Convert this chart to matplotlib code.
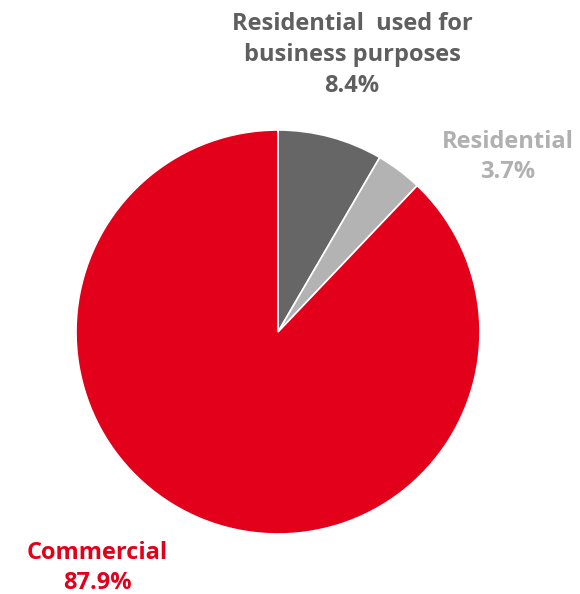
import matplotlib.pyplot as plt

# ---------- Data ----------
labels = ["Residential  used for\nbusiness purposes", "Residential", "Commercial"]
shares = [8.4, 3.7, 87.9]
colors = ["#666666", "#b3b3b3", "#e2001a"]
text_colors = ["#5f5f5f", "#b0b0b0", "#e2001a"]

plt.rcParams['font.family'] = ['Open Sans', 'DejaVu Sans']

W, H = 580, 594
fig = plt.figure(figsize=(W / 100, H / 100), dpi=100)
ax = fig.add_axes([76 / W, (H - 534) / H, 404 / W, 404 / H])
ax.pie(shares, colors=colors, startangle=90, counterclock=False,
       wedgeprops=dict(edgecolor="white", linewidth=1.2))
ax.set_xlim(-1, 1)
ax.set_ylim(-1, 1)
ax.set_aspect("equal")
ax.axis("off")

# label positions (pixels, centre of text block)
pos = [(352, 55), (508, 157), (97, 568)]
for lab, val, col, (x, y) in zip(labels, shares, text_colors, pos):
    fig.text(x / W, 1 - y / H, f"{lab}\n{val}%", color=col, fontsize=17,
             fontweight="bold", ha="center", va="center", linespacing=1.38)

fig.savefig("out.png", dpi=100)
